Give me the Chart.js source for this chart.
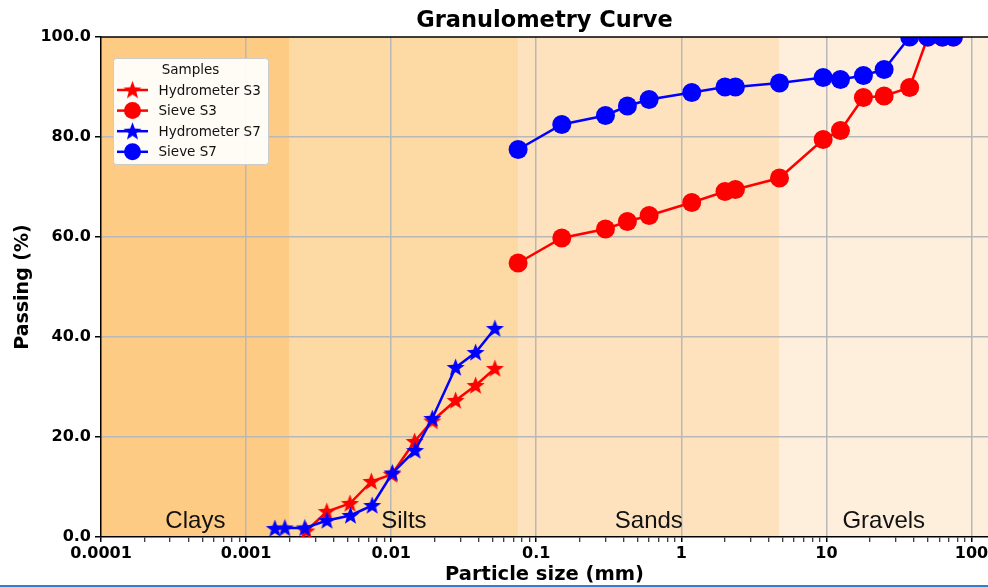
<!DOCTYPE html>
<html>
<head>
<meta charset="utf-8">
<title>Granulometry Curve</title>
<script src="https://cdn.jsdelivr.net/npm/chart.js@4.4.0/dist/chart.umd.min.js"></script>
<style>
  html, body { margin: 0; padding: 0; background: #fff; }
  #wrap { position: relative; width: 988px; height: 587px; }
  #edge { position: absolute; left: 0; right: 0; bottom: 0; height: 2px; background: #2f7fd3; }
</style>
</head>
<body>
<div id="wrap">
  <canvas id="granChart" width="988" height="587"></canvas>
  <div id="edge"></div>
</div>
<script>
// sieve openings (mm) and % passing
const sieveSizes = [0.075, 0.15, 0.3, 0.425, 0.6, 1.18, 2.0, 2.36, 4.75, 9.5, 12.5, 18, 25, 37.5, 50, 63, 75];
const sieveS3 = [54.8, 59.8, 61.6, 63.1, 64.3, 66.9, 69.1, 69.5, 71.8, 79.5, 81.3, 87.9, 88.2, 89.9, 100, 100, 100];
const sieveS7 = [77.5, 82.5, 84.3, 86.2, 87.5, 88.9, 90.0, 90.0, 90.8, 91.9, 91.5, 92.3, 93.5, 100, 100, 100, 100];

// hydrometer readings
const hydroSizesS3 = [0.0026, 0.0036, 0.0052, 0.0073, 0.0101, 0.0145, 0.0192, 0.0278, 0.0382, 0.0519];
const hydroS3 = [1.2, 5.1, 6.7, 11.1, 12.5, 19.1, 23.2, 27.3, 30.3, 33.7];
const hydroSizesS7 = [0.00158, 0.00185, 0.00254, 0.00361, 0.00524, 0.0074, 0.0102, 0.0146, 0.0192, 0.0278, 0.0382, 0.0519];
const hydroS7 = [1.7, 1.8, 1.8, 3.3, 4.3, 6.3, 12.8, 17.3, 23.7, 33.9, 36.9, 41.7];

// soil classes
const soilClasses = ['Clays', 'Silts', 'Sands', 'Gravels'];
const classLimits = [0.0001, 0.002, 0.075, 4.75, 130];
const classColors = ['#fdcb84', '#fdd9a3', '#fde2bd', '#feefdd'];

const xTickLabels = ['0.0001', '0.001', '0.01', '0.1', '1', '10', '100'];
const yTickValues = [0, 20, 40, 60, 80, 100];
const chartTitle = 'Granulometry Curve';

const xMin = classLimits[0];
const xMax = classLimits[classLimits.length - 1];

function makeStar(color, R) {
    const c = document.createElement('canvas');
    const s = Math.ceil(R * 2 + 2);
    c.width = s; c.height = s;
    const g = c.getContext('2d');
    g.translate(s / 2, s / 2 + R * 0.06);
    g.beginPath();
    for (let i = 0; i < 10; i++) {
        const r = i % 2 ? R * 0.42 : R;
        const a = -Math.PI / 2 + i * Math.PI / 5;
        g.lineTo(r * Math.cos(a), r * Math.sin(a));
    }
    g.closePath();
    g.fillStyle = color;
    g.fill();
    return c;
}

const redStar = makeStar('#ff0000', 9.5);
const blueStar = makeStar('#0000ff', 9.5);

function pts(xs, ys) {
    return xs.map((x, i) => ({ x: x, y: ys[i] }));
}

function isDecade(v) {
    const l = Math.log10(v);
    return Math.abs(l - Math.round(l)) < 1e-6;
}

// background bands for the soil classes, under the grid
const bandPlugin = {
    id: 'bands',
    beforeDraw(chart) {
        const { ctx, chartArea, scales } = chart;
        ctx.save();
        for (let i = 0; i < soilClasses.length; i++) {
            const x0 = scales.x.getPixelForValue(classLimits[i]);
            const x1 = scales.x.getPixelForValue(classLimits[i + 1]);
            ctx.fillStyle = classColors[i];
            ctx.fillRect(x0, chartArea.top, x1 - x0, chartArea.bottom - chartArea.top);
        }
        ctx.restore();
    },
    beforeDatasetsDraw(chart) {
        const { ctx, scales } = chart;
        ctx.save();
        ctx.font = '24px "Liberation Sans", Arial, sans-serif';
        ctx.fillStyle = '#111';
        ctx.textAlign = 'center';
        ctx.textBaseline = 'alphabetic';
        for (let i = 0; i < soilClasses.length; i++) {
            const mid = Math.sqrt(classLimits[i] * classLimits[i + 1]);
            ctx.fillText(soilClasses[i], scales.x.getPixelForValue(mid), scales.y.getPixelForValue(1.8));
        }
        ctx.restore();
    }
};

// title over the plot area, top spine, legend box inside the plot
const framePlugin = {
    id: 'frame',
    afterDraw(chart) {
        const { ctx, chartArea } = chart;
        ctx.save();
        ctx.fillStyle = '#000';
        ctx.font = 'bold 22.5px "DejaVu Sans", sans-serif';
        ctx.textAlign = 'center';
        ctx.textBaseline = 'middle';
        ctx.fillText(chartTitle, (chartArea.left + chartArea.right) / 2, 21);

        ctx.strokeStyle = '#000';
        ctx.lineWidth = 1.5;
        ctx.beginPath();
        ctx.moveTo(chartArea.left, chartArea.top);
        ctx.lineTo(chartArea.right, chartArea.top);
        ctx.stroke();

        const x0 = chartArea.left + 12, y0 = chartArea.top + 21, w = 155, h = 106;
        ctx.beginPath();
        ctx.roundRect(x0 + 0.5, y0 + 0.5, w, h, 3);
        ctx.fillStyle = 'rgba(255,255,255,0.92)';
        ctx.fill();
        ctx.strokeStyle = '#cccccc';
        ctx.lineWidth = 1;
        ctx.stroke();

        ctx.fillStyle = '#111';
        ctx.font = '13.5px "DejaVu Sans", sans-serif';
        ctx.textAlign = 'center';
        ctx.textBaseline = 'middle';
        ctx.fillText('Samples', x0 + w / 2, y0 + 12);

        ctx.textAlign = 'left';
        chart.data.datasets.forEach((ds, i) => {
            const yy = y0 + 32 + i * 20.6;
            const hx = x0 + 19.5;
            ctx.strokeStyle = ds.borderColor;
            ctx.lineWidth = ds.borderWidth;
            ctx.beginPath();
            ctx.moveTo(x0 + 4, yy);
            ctx.lineTo(x0 + 35, yy);
            ctx.stroke();
            if (ds.pointStyle instanceof HTMLCanvasElement) {
                ctx.drawImage(ds.pointStyle, hx - ds.pointStyle.width / 2, yy - ds.pointStyle.height / 2);
            } else {
                ctx.fillStyle = ds.backgroundColor;
                ctx.beginPath();
                ctx.arc(hx, yy, 8.5, 0, Math.PI * 2);
                ctx.fill();
            }
            ctx.fillStyle = '#111';
            ctx.fillText(ds.label, x0 + 45.5, yy + 1);
        });
        ctx.restore();
    }
};

const ctx = document.getElementById('granChart').getContext('2d');
const granChart = new Chart(ctx, {
    type: 'line',
    data: {
        datasets: [{
            label: 'Hydrometer S3',
            data: pts(hydroSizesS3, hydroS3),
            borderColor: '#ff0000',
            backgroundColor: '#ff0000',
            borderWidth: 2.5,
            pointStyle: redStar,
            pointRadius: 9,
            order: 1,
            clip: 0
        }, {
            label: 'Sieve S3',
            data: pts(sieveSizes, sieveS3),
            borderColor: '#ff0000',
            backgroundColor: '#ff0000',
            borderWidth: 2.5,
            pointStyle: 'circle',
            pointRadius: 9.5,
            pointBorderWidth: 0,
            order: 1,
            clip: 0
        }, {
            label: 'Hydrometer S7',
            data: pts(hydroSizesS7, hydroS7),
            borderColor: '#0000ff',
            backgroundColor: '#0000ff',
            borderWidth: 2.5,
            pointStyle: blueStar,
            pointRadius: 9,
            order: 0,
            clip: 0
        }, {
            label: 'Sieve S7',
            data: pts(sieveSizes, sieveS7),
            borderColor: '#0000ff',
            backgroundColor: '#0000ff',
            borderWidth: 2.5,
            pointStyle: 'circle',
            pointRadius: 9.5,
            pointBorderWidth: 0,
            order: 0,
            clip: 0
        }]
    },
    options: {
        responsive: false,
        devicePixelRatio: 1,
        animation: false,
        layout: { padding: { top: 37, left: 0, right: 0, bottom: 0 }, autoPadding: false },
        plugins: {
            legend: { display: false },
            tooltip: { enabled: false },
            title: { display: false }
        },
        scales: {
            x: {
                type: 'logarithmic',
                min: xMin,
                max: xMax,
                afterBuildTicks: (scale) => {
                    const ticks = [];
                    xTickLabels.forEach(lbl => {
                        const d = parseFloat(lbl);
                        for (let k = 1; k <= 9; k++) {
                            const v = d * k;
                            if (v <= xMax) ticks.push({ value: v, major: k === 1 });
                        }
                    });
                    scale.ticks = ticks;
                },
                afterFit: (scale) => {
                    scale.height = 50;
                    scale.paddingLeft = 0;
                    scale.paddingRight = 0;
                },
                ticks: {
                    autoSkip: false,
                    maxRotation: 0,
                    padding: 2,
                    color: '#000',
                    font: { family: 'DejaVu Sans', size: 16, weight: 'bold' },
                    callback: (v) => {
                        if (!isDecade(v)) return '';
                        const e = Math.round(Math.log10(v));
                        return e >= 0 ? v.toFixed(0) : v.toFixed(-e);
                    }
                },
                grid: {
                    color: (c) => (c.tick && isDecade(c.tick.value) && c.tick.value > xMin) ? '#b8b8b8' : 'rgba(0,0,0,0)',
                    lineWidth: 1.5,
                    tickColor: '#000',
                    tickLength: 5,
                    tickWidth: (c) => (c.tick && isDecade(c.tick.value)) ? 1.5 : 1
                },
                border: { display: true, color: '#000', width: 1.5 },
                title: {
                    display: true,
                    text: 'Particle size (mm)',
                    color: '#000',
                    font: { family: 'DejaVu Sans', size: 19.5, weight: 'bold' },
                    padding: { top: 0, bottom: 0 }
                }
            },
            y: {
                type: 'linear',
                min: yTickValues[0],
                max: yTickValues[yTickValues.length - 1],
                afterFit: (scale) => {
                    scale.width = 101;
                    scale.paddingTop = 0;
                    scale.paddingBottom = 0;
                },
                ticks: {
                    stepSize: 20,
                    padding: 4,
                    color: '#000',
                    font: { family: 'DejaVu Sans', size: 16, weight: 'bold' },
                    callback: (v) => v.toFixed(1)
                },
                grid: {
                    color: (c) => (c.tick && c.tick.value > 0 && c.tick.value < 100) ? '#b8b8b8' : 'rgba(0,0,0,0)',
                    lineWidth: 1.5,
                    tickColor: '#000',
                    tickLength: 6,
                    tickWidth: 1.5
                },
                border: { display: true, color: '#000', width: 1.5 },
                title: {
                    display: true,
                    text: 'Passing (%)',
                    color: '#000',
                    font: { family: 'DejaVu Sans', size: 19, weight: 'bold' },
                    padding: { top: 12, bottom: 0 }
                }
            }
        }
    },
    plugins: [bandPlugin, framePlugin]
});
</script>
</body>
</html>
